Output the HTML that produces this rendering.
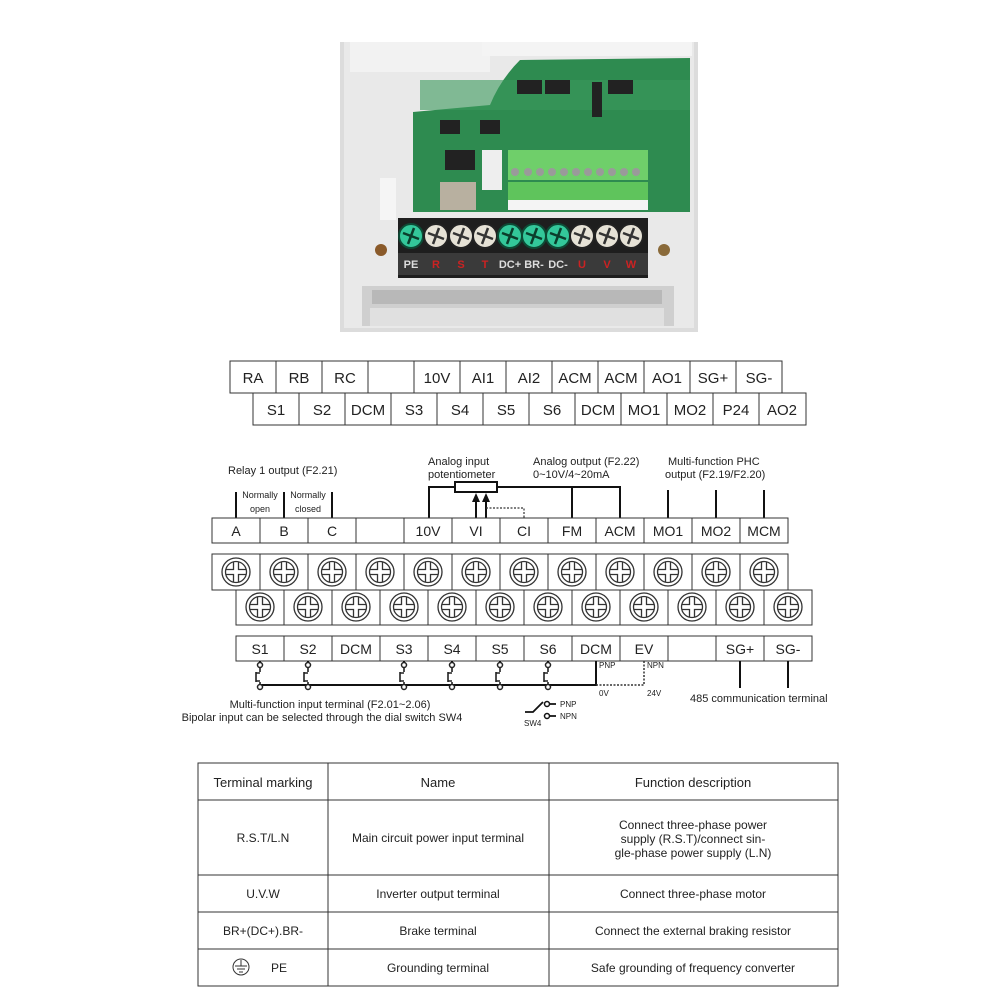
<!DOCTYPE html>
<html><head><meta charset="utf-8"><style>
html,body{margin:0;padding:0;background:#fff;width:1000px;height:1000px;overflow:hidden}
svg{display:block}
text{font-family:"Liberation Sans",sans-serif;fill:#222}
</style></head><body>
<svg width="1000" height="1000" viewBox="0 0 1000 1000" xmlns="http://www.w3.org/2000/svg">
<defs>
<g id="sc"><circle r="14" fill="#fff" stroke="#333" stroke-width="1.3"/><circle r="10.5" fill="none" stroke="#333" stroke-width="1.3"/>
<path d="M-2.5,-10 V-2.5 H-10 M-10,2.5 H-2.5 V10 M2.5,10 V2.5 H10 M10,-2.5 H2.5 V-10" fill="none" stroke="#333" stroke-width="1.3"/></g>
<g id="hs"><circle r="12" fill="#e6e2d6" stroke="#222" stroke-width="2"/><path d="M-8,-3 L8,3 M-3,8 L3,-8" stroke="#333" stroke-width="2.5"/></g>
<g id="gs"><circle r="12" fill="#33c79a" stroke="#0d4a35" stroke-width="2"/><path d="M-8,-3 L8,3 M-3,8 L3,-8" stroke="#0b3d2c" stroke-width="2.5"/></g>
<g id="sw"><circle cx="0" cy="0" r="2.5" fill="#fff" stroke="#222" stroke-width="1.5"/><path d="M0,2.5 V7 M-4,7 V17 M0,17 V21" stroke="#222" stroke-width="1.6" fill="none"/><path d="M-4,8 H0 M-4,16 H0" stroke="#222" stroke-width="1.6"/><circle cx="0" cy="22" r="2.5" fill="#fff" stroke="#222" stroke-width="1.5"/></g>
</defs>

<!-- Photo -->
<rect x="340" y="42" width="358" height="290" fill="#dcdcdc"/>
<rect x="344" y="42" width="350" height="286" fill="#e9e9e9"/>
<rect x="350" y="42" width="140" height="30" fill="#f2f2f2"/>
<rect x="482" y="42" width="210" height="14" fill="#f4f4f4"/>
<path d="M413,112 L490,105 Q500,80 520,60 L690,58 L690,212 L413,212 Z" fill="#2e8b50"/>
<rect x="420" y="80" width="270" height="30" fill="#3a9a5c" opacity="0.6"/>
<g fill="#222"><rect x="517" y="80" width="25" height="14"/><rect x="545" y="80" width="25" height="14"/><rect x="608" y="80" width="25" height="14"/><rect x="440" y="120" width="20" height="14"/><rect x="480" y="120" width="20" height="14"/><rect x="592" y="82" width="10" height="35"/><rect x="445" y="150" width="30" height="20"/></g>
<rect x="508" y="150" width="140" height="30" fill="#6fcf6a"/>
<g fill="#9a9a9a"><circle cx="515" cy="172" r="4"/><circle cx="528" cy="172" r="4"/><circle cx="540" cy="172" r="4"/><circle cx="552" cy="172" r="4"/><circle cx="564" cy="172" r="4"/><circle cx="576" cy="172" r="4"/><circle cx="588" cy="172" r="4"/><circle cx="600" cy="172" r="4"/><circle cx="612" cy="172" r="4"/><circle cx="624" cy="172" r="4"/><circle cx="636" cy="172" r="4"/></g>
<rect x="508" y="182" width="140" height="22" fill="#5fc45c"/>
<rect x="508" y="200" width="140" height="10" fill="#f4f4f4"/>
<rect x="482" y="150" width="20" height="40" fill="#eee"/>
<rect x="440" y="182" width="36" height="28" fill="#b8b0a0"/>
<rect x="380" y="178" width="16" height="42" fill="#f5f5f5"/>
<rect x="398" y="218" width="250" height="60" fill="#1e1e1e"/>
<use href="#gs" x="411" y="236"/><use href="#hs" x="436" y="236"/><use href="#hs" x="461" y="236"/><use href="#hs" x="485" y="236"/><use href="#gs" x="510" y="236"/><use href="#gs" x="534" y="236"/><use href="#gs" x="558" y="236"/><use href="#hs" x="582" y="236"/><use href="#hs" x="607" y="236"/><use href="#hs" x="631" y="236"/>
<rect x="398" y="253" width="250" height="22" fill="#3a3a3a"/>
<g font-size="11" font-weight="bold" text-anchor="middle"><text x="411" y="268" style="fill:#ddd">PE</text><text x="436" y="268" style="fill:#c22">R</text><text x="461" y="268" style="fill:#c22">S</text><text x="485" y="268" style="fill:#c22">T</text><text x="510" y="268" style="fill:#ddd">DC+</text><text x="534" y="268" style="fill:#ddd">BR-</text><text x="558" y="268" style="fill:#ddd">DC-</text><text x="582" y="268" style="fill:#c22">U</text><text x="607" y="268" style="fill:#c22">V</text><text x="631" y="268" style="fill:#c22">W</text></g>
<circle cx="381" cy="250" r="6" fill="#8a5a2a"/><circle cx="664" cy="250" r="6" fill="#8a6a3a"/>
<rect x="362" y="286" width="312" height="40" fill="#cfcfcf"/>
<rect x="372" y="290" width="290" height="14" fill="#b8b8b8"/>
<rect x="370" y="308" width="294" height="18" fill="#e0e0e0"/>

<!-- Top terminal table -->
<g fill="none" stroke="#333" stroke-width="1">
<rect x="230" y="361" width="552" height="32"/>
<path d="M276,361V393M322,361V393M368,361V393M414,361V393M460,361V393M506,361V393M552,361V393M598,361V393M644,361V393M690,361V393M736,361V393"/>
<rect x="253" y="393" width="553" height="32"/>
<path d="M299,393V425M345,393V425M391,393V425M437,393V425M483,393V425M529,393V425M575,393V425M621,393V425M667,393V425M713,393V425M759,393V425"/>
</g>
<g font-size="15" text-anchor="middle">
<text x="253" y="383">RA</text><text x="299" y="383">RB</text><text x="345" y="383">RC</text><text x="437" y="383">10V</text><text x="483" y="383">AI1</text><text x="529" y="383">AI2</text><text x="575" y="383">ACM</text><text x="621" y="383">ACM</text><text x="667" y="383">AO1</text><text x="713" y="383">SG+</text><text x="759" y="383">SG-</text>
<text x="276" y="415">S1</text><text x="322" y="415">S2</text><text x="368" y="415">DCM</text><text x="414" y="415">S3</text><text x="460" y="415">S4</text><text x="506" y="415">S5</text><text x="552" y="415">S6</text><text x="598" y="415">DCM</text><text x="644" y="415">MO1</text><text x="690" y="415">MO2</text><text x="736" y="415">P24</text><text x="782" y="415">AO2</text>
</g>

<!-- Diagram labels -->
<g font-size="11">
<text x="228" y="474">Relay 1 output (F2.21)</text>
<text x="428" y="465">Analog input</text><text x="428" y="478">potentiometer</text>
<text x="533" y="465">Analog output (F2.22)</text><text x="533" y="478">0~10V/4~20mA</text>
<text x="668" y="465">Multi-function PHC</text><text x="665" y="478">output (F2.19/F2.20)</text>
</g>
<g font-size="9" text-anchor="middle"><text x="260" y="498">Normally</text><text x="260" y="512">open</text><text x="308" y="498">Normally</text><text x="308" y="512">closed</text></g>
<g stroke="#111" stroke-width="2" fill="none">
<path d="M236,492V518M284,492V518M332,492V518"/>
<path d="M429,518V487H455M497,487H620V518M572,487V518"/>
<path d="M668,490V518M716,490V518M764,490V518"/>
<path d="M476,518V500M486,518V500"/>
</g>
<rect x="455" y="482" width="42" height="10" fill="#fff" stroke="#111" stroke-width="2"/>
<path d="M472,502L476,493L480,502Z M482,502L486,493L490,502Z" fill="#111"/>
<path d="M486,508H524V518" stroke="#333" stroke-width="1.2" stroke-dasharray="2,1.5" fill="none"/>

<!-- top row -->
<g fill="none" stroke="#333" stroke-width="1">
<rect x="212" y="518" width="576" height="25"/>
<path d="M260,518V543M308,518V543M356,518V543M404,518V543M452,518V543M500,518V543M548,518V543M596,518V543M644,518V543M692,518V543M740,518V543"/>
<rect x="212" y="554" width="576" height="36"/>
<path d="M260,554V590M308,554V590M356,554V590M404,554V590M452,554V590M500,554V590M548,554V590M596,554V590M644,554V590M692,554V590M740,554V590"/>
<rect x="236" y="590" width="576" height="35"/>
<path d="M284,590V625M332,590V625M380,590V625M428,590V625M476,590V625M524,590V625M572,590V625M620,590V625M668,590V625M716,590V625M764,590V625"/>
<rect x="236" y="636" width="576" height="25"/>
<path d="M284,636V661M332,636V661M380,636V661M428,636V661M476,636V661M524,636V661M572,636V661M620,636V661M668,636V661M716,636V661M764,636V661"/>
</g>
<g font-size="14" text-anchor="middle">
<text x="236" y="536">A</text><text x="284" y="536">B</text><text x="332" y="536">C</text><text x="428" y="536">10V</text><text x="476" y="536">VI</text><text x="524" y="536">CI</text><text x="572" y="536">FM</text><text x="620" y="536">ACM</text><text x="668" y="536">MO1</text><text x="716" y="536">MO2</text><text x="764" y="536">MCM</text>
<text x="260" y="654">S1</text><text x="308" y="654">S2</text><text x="356" y="654">DCM</text><text x="404" y="654">S3</text><text x="452" y="654">S4</text><text x="500" y="654">S5</text><text x="548" y="654">S6</text><text x="596" y="654">DCM</text><text x="644" y="654">EV</text><text x="740" y="654">SG+</text><text x="788" y="654">SG-</text>
</g>
<use href="#sc" x="236" y="572"/><use href="#sc" x="284" y="572"/><use href="#sc" x="332" y="572"/><use href="#sc" x="380" y="572"/><use href="#sc" x="428" y="572"/><use href="#sc" x="476" y="572"/><use href="#sc" x="524" y="572"/><use href="#sc" x="572" y="572"/><use href="#sc" x="620" y="572"/><use href="#sc" x="668" y="572"/><use href="#sc" x="716" y="572"/><use href="#sc" x="764" y="572"/>
<use href="#sc" x="260" y="607"/><use href="#sc" x="308" y="607"/><use href="#sc" x="356" y="607"/><use href="#sc" x="404" y="607"/><use href="#sc" x="452" y="607"/><use href="#sc" x="500" y="607"/><use href="#sc" x="548" y="607"/><use href="#sc" x="596" y="607"/><use href="#sc" x="644" y="607"/><use href="#sc" x="692" y="607"/><use href="#sc" x="740" y="607"/><use href="#sc" x="788" y="607"/>

<!-- bottom wiring -->
<g stroke="#111" stroke-width="2" fill="none">
<path d="M260,661V664M308,661V664M404,661V664M452,661V664M500,661V664M548,661V664"/>
<path d="M260,688V685H596V661"/>
<path d="M740,661V688M788,661V688"/>
</g>
<use href="#sw" x="260" y="665"/><use href="#sw" x="308" y="665"/><use href="#sw" x="404" y="665"/><use href="#sw" x="452" y="665"/><use href="#sw" x="500" y="665"/><use href="#sw" x="548" y="665"/>
<path d="M596,685H644V661" stroke="#333" stroke-width="1.5" stroke-dasharray="2,1.5" fill="none"/>
<g font-size="8"><text x="599" y="668">PNP</text><text x="647" y="668">NPN</text><text x="599" y="696">0V</text><text x="647" y="696">24V</text></g>
<text x="690" y="702" font-size="11">485 communication terminal</text>
<g font-size="11" text-anchor="middle"><text x="330" y="708">Multi-function input terminal (F2.01~2.06)</text><text x="322" y="721">Bipolar input can be selected through the dial switch SW4</text></g>
<g stroke="#111" stroke-width="1.8" fill="none"><path d="M525,712H533L543,702"/><path d="M550,704H556M550,716H556"/></g>
<circle cx="547" cy="704" r="2.5" fill="#fff" stroke="#111" stroke-width="1.5"/><circle cx="547" cy="716" r="2.5" fill="#fff" stroke="#111" stroke-width="1.5"/>
<g font-size="8"><text x="560" y="707">PNP</text><text x="560" y="719">NPN</text><text x="524" y="726">SW4</text></g>

<!-- bottom table -->
<g fill="none" stroke="#333" stroke-width="1">
<rect x="198" y="763" width="640" height="223"/>
<path d="M328,763V986M549,763V986M198,800H838M198,875H838M198,912H838M198,949H838"/>
</g>
<g font-size="13" text-anchor="middle">
<text x="263" y="787">Terminal marking</text><text x="438" y="787">Name</text><text x="693" y="787">Function description</text>
<text x="263" y="842" font-size="12">R.S.T/L.N</text><text x="438" y="842" font-size="12">Main circuit power input terminal</text>
<text x="693" y="829" font-size="12">Connect three-phase power</text><text x="693" y="843" font-size="12">supply (R.S.T)/connect sin-</text><text x="693" y="857" font-size="12">gle-phase power supply (L.N)</text>
<text x="263" y="898" font-size="12">U.V.W</text><text x="438" y="898" font-size="12">Inverter output terminal</text><text x="693" y="898" font-size="12">Connect three-phase motor</text>
<text x="263" y="935" font-size="12">BR+(DC+).BR-</text><text x="438" y="935" font-size="12">Brake terminal</text><text x="693" y="935" font-size="12">Connect the external braking resistor</text>
<text x="279" y="972" font-size="12">PE</text><text x="438" y="972" font-size="12">Grounding terminal</text><text x="693" y="972" font-size="12">Safe grounding of frequency converter</text>
</g>
<circle cx="241" cy="967" r="8" fill="none" stroke="#333"/>
<path d="M241,960V966M235,966H247M237,969H245M239,972H243" stroke="#333" fill="none"/>
</svg>
</body></html>
